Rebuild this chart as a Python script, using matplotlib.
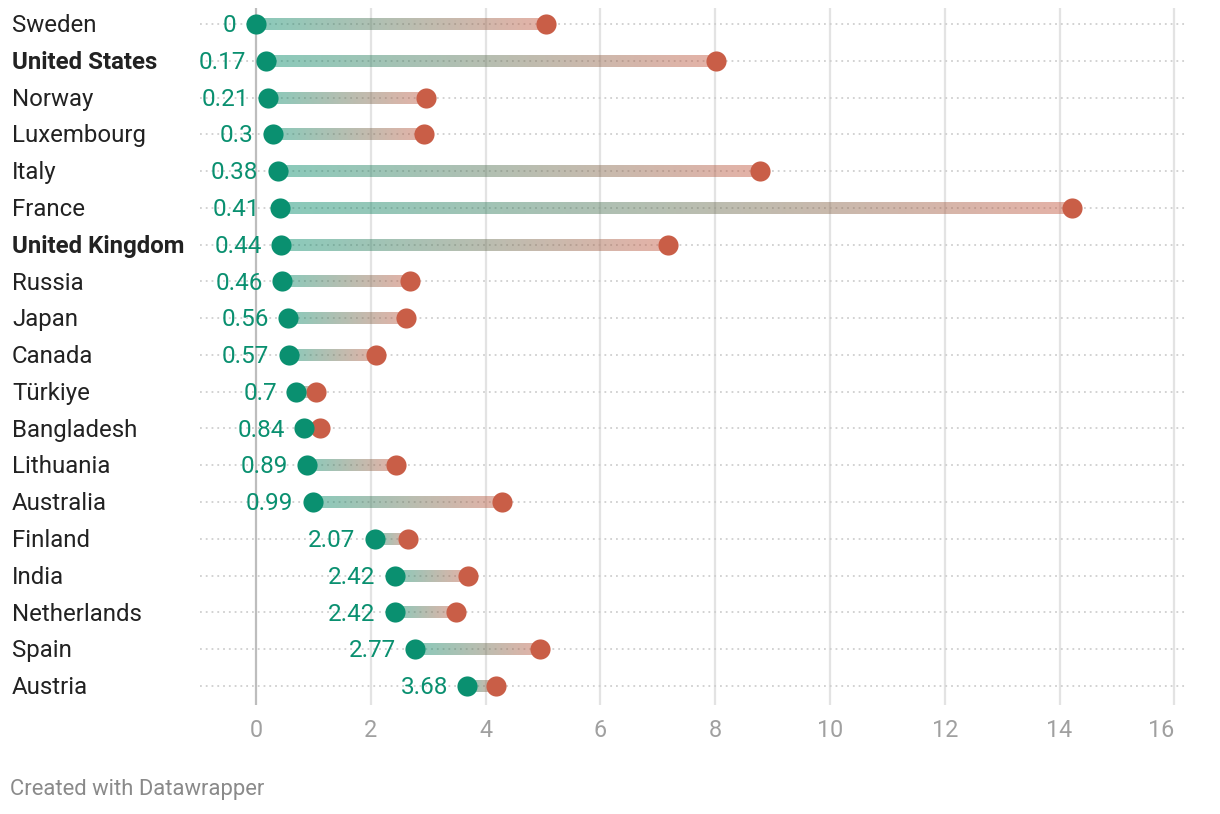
import numpy as np
import matplotlib.pyplot as plt
from matplotlib.colors import to_rgb

countries = ['Sweden', 'United States', 'Norway', 'Luxembourg', 'Italy', 'France',
             'United Kingdom', 'Russia', 'Japan', 'Canada', 'Türkiye', 'Bangladesh',
             'Lithuania', 'Australia', 'Finland', 'India', 'Netherlands', 'Spain', 'Austria']
low = [0, 0.17, 0.21, 0.3, 0.38, 0.41, 0.44, 0.46, 0.56, 0.57, 0.7, 0.84,
       0.89, 0.99, 2.07, 2.42, 2.42, 2.77, 3.68]
high = [5.05, 8.01, 2.96, 2.93, 8.78, 14.22, 7.18, 2.68, 2.61, 2.09, 1.05, 1.11,
        2.44, 4.29, 2.65, 3.69, 3.48, 4.95, 4.18]
low_labels = ['0', '0.17', '0.21', '0.3', '0.38', '0.41', '0.44', '0.46', '0.56', '0.57',
              '0.7', '0.84', '0.89', '0.99', '2.07', '2.42', '2.42', '2.77', '3.68']
bold = ['United States', 'United Kingdom']
ticks = [0, 2, 4, 6, 8, 10, 12, 14, 16]

green = '#0a9070'
red = '#c95e47'
font = 'Roboto'

W, H = 1220, 814
fig = plt.figure(figsize=(W / 100, H / 100), dpi=100)
ax = fig.add_axes([200 / W, 1 - 705 / H, (1187 - 200) / W, (705 - 8) / H])
ax.set_xlim(-0.976, 16.22)
n = len(countries)
ax.set_ylim(18.52, -0.435)

for s in ax.spines.values():
    s.set_visible(False)

# vertical grid
for t in ticks:
    ax.axvline(t, color='#bdbdbd' if t == 0 else '#e3e3e3', lw=1.6, zorder=0)

# dotted row lines
for i in range(n):
    ax.axhline(i, color='#cfcfcf', lw=1.3, ls=(0, (1, 2.2)), zorder=1)

# gradient bars
g = np.array(to_rgb(green))
r = np.array(to_rgb(red))
t = np.linspace(0, 1, 256)[:, None]
grad = np.zeros((1, 256, 4))
grad[0, :, :3] = g * (1 - t) + r * t
grad[0, :, 3] = 0.48
h = 0.163
for i in range(n):
    ax.imshow(grad, extent=[low[i], high[i], i + h, i - h], aspect='auto',
              interpolation='bilinear', zorder=2)

ax.plot(high, range(n), 'o', color=red, ms=14.5, mec='none', zorder=3)
ax.plot(low, range(n), 'o', color=green, ms=14.5, mec='none', zorder=4)

for i in range(n):
    ax.annotate(low_labels[i], (low[i], i), xytext=(-14, -1.2), textcoords='offset points',
                ha='right', va='center', color=green, fontsize=17.5, family=font)
    fig.text(12 / W, 1 - (25.6 + i * 36.78) / H, countries[i], ha='left', va='center',
             fontsize=17.3, family=font, color='#222222',
             fontweight='bold' if countries[i] in bold else 'normal')

ax.set_xticks(ticks)
ax.set_xticklabels([str(x) for x in ticks], family=font, fontsize=16.8, color='#a0a0a0')
ax.tick_params(axis='x', length=0, pad=10)
ax.get_xticklabels()[-1].set_ha('right')
ax.set_yticks([])

fig.text(10 / W, 1 - 789 / H, 'Created with Datawrapper', ha='left', va='center',
         fontsize=15.8, family=font, color='#8a8a8a')

fig.savefig('out.png', dpi=100)
